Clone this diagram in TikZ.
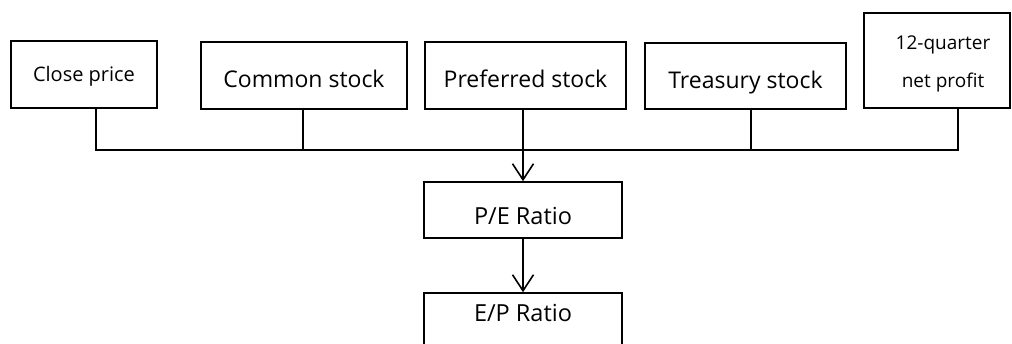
\documentclass[tikz,border=0pt]{standalone}
\usepackage{fontspec}
\setmainfont{Open Sans}
\usetikzlibrary{arrows.meta}
\begin{document}
\begin{tikzpicture}[x=1pt,y=-1pt,
  box/.style={draw=black, line width=1.6pt, inner sep=0pt, align=center, font=\fontsize{23}{27}\selectfont, text height=24pt, text depth=0pt},
  conn/.style={draw=black, line width=1.8pt},
  arr/.style={conn, -{Straight Barb[length=16pt,width=21pt,line width=1.6pt]}}]
\useasboundingbox (0,0) rectangle (1012,343);
\clip (0,0) rectangle (1012,343);
\node[box, minimum width=146pt, minimum height=67pt, font=\fontsize{20}{24}\selectfont, text height=13pt] (close) at (84,74.5) {Close price};
\node[box, minimum width=206pt, minimum height=67pt] (common) at (304,75.5) {Common stock};
\node[box, minimum width=201pt, minimum height=67pt] (pref) at (525.5,75.5) {Preferred stock};
\node[box, minimum width=201pt, minimum height=66pt] (treas) at (745.5,76) {Treasury stock};
\node[box, minimum width=146pt, minimum height=95pt,
  label={[align=center, font=\fontsize{19}{38}\selectfont, xshift=6pt, yshift=-3pt]center:12-quarter\\net profit}] (q12) at (937,60.5) {};
\node[box, minimum width=198pt, minimum height=56pt, font=\fontsize{23.5}{28}\selectfont, text height=28pt] (pe) at (523,210) {P/E Ratio};
\node[box, minimum width=198pt, minimum height=80pt,
  label={[yshift=20pt, font=\fontsize{23.5}{28}\selectfont]center:E/P Ratio}] (ep) at (523,333) {};
\coordinate (busL) at (96,150);
\coordinate (busR) at (958,150);
\coordinate (xc) at (303,150);
\coordinate (xt) at (751,150);
\draw[conn] (busL |- close.south) -- (busL) -- (busR) -- (busR |- q12.south);
\draw[conn] (xc |- common.south) -- (xc);
\draw[conn] (xt |- treas.south) -- (xt);
\draw[arr] (pe.north |- pref.south) -- (pe.north);
\draw[arr] (pe.south) -- (ep.north);
\end{tikzpicture}
\end{document}
